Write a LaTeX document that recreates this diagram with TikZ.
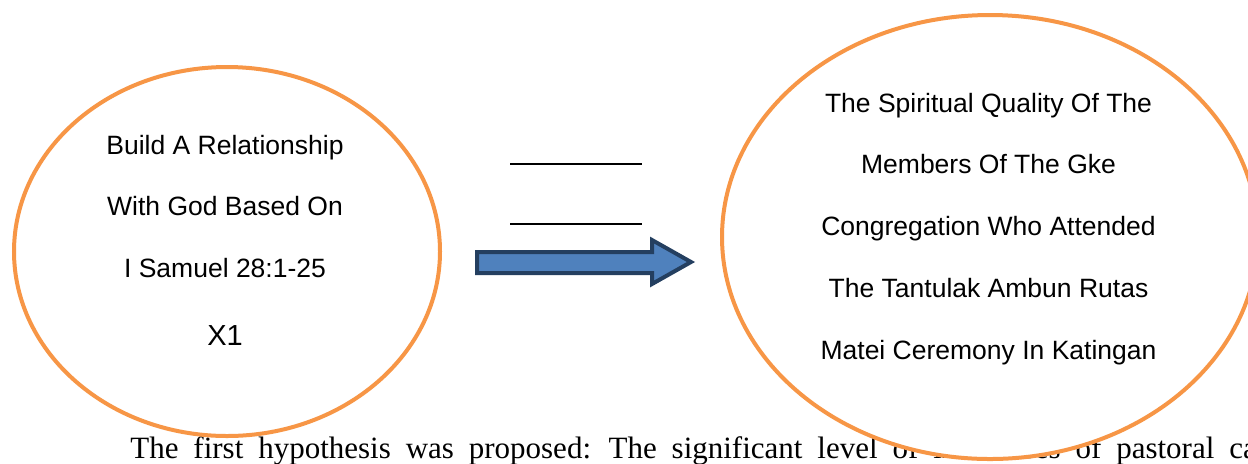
\documentclass[tikz,border=0pt]{standalone}
\usepackage{fontspec}
\setmainfont{Liberation Serif}
\newfontfamily\bodyfont[WordSpace=1.92]{Liberation Serif}
\newfontfamily\diagfont{Liberation Sans}
\usetikzlibrary{shapes.geometric}
\definecolor{ringorange}{HTML}{F79646}
\definecolor{arrowfill}{HTML}{4F81BD}
\definecolor{arrowedge}{HTML}{243F60}
\tikzset{
  ring/.style={draw=ringorange,line width=2pt,fill=white,ellipse,inner sep=0pt},
  ringtext/.style={font=\diagfont\fontsize{13.25}{15}\selectfont,anchor=base,inner sep=0pt},
  blockarrow/.style={draw=arrowedge,fill=arrowfill,line width=2pt,line join=miter},
  blank/.style={line width=1pt}
}
\begin{document}
\begin{tikzpicture}[x=0.5pt,y=-0.5pt]
\useasboundingbox (0,0) rectangle (1248,463);
\clip (0,0) rectangle (1248,463);
% running text behind the figure
\node[anchor=base west,inner sep=0pt,font=\bodyfont\fontsize{15.5}{18}\selectfont] (body) at (130,458)
  {The first hypothesis was proposed: The significant level of influences of pastoral care};
% variables
\node[ring,minimum width=213pt,minimum height=184.5pt] (pred) at (227,251.5) {};
\node[ring,minimum width=268pt,minimum height=222pt] (dep) at (990,237) {};
\foreach \txt [count=\i] in {Build A Relationship,With God Based On,I Samuel 28:1-25}
  \node[ringtext] (pred\i) at (225,{154+61.5*(\i-1)}) {\txt};
\node[ringtext,font=\diagfont\fontsize{14.5}{17}\selectfont] (predx) at (225,345) {X1};
\foreach \txt [count=\i] in {The Spiritual Quality Of The,Members Of The Gke,Congregation Who Attended,The Tantulak Ambun Rutas,Matei Ceremony In Katingan}
  \node[ringtext] (dep\i) at (988.5,{112+61.75*(\i-1)}) {\txt};
% blanks and arrow
\draw[blank] (510,164) -- (642,164);
\draw[blank] (510,224) -- (642,224);
\draw[blockarrow] (477,252) -- (652,252) -- (652,240) -- (691,262) -- (652,284) -- (652,273) -- (477,273) -- cycle;
\end{tikzpicture}
\end{document}
